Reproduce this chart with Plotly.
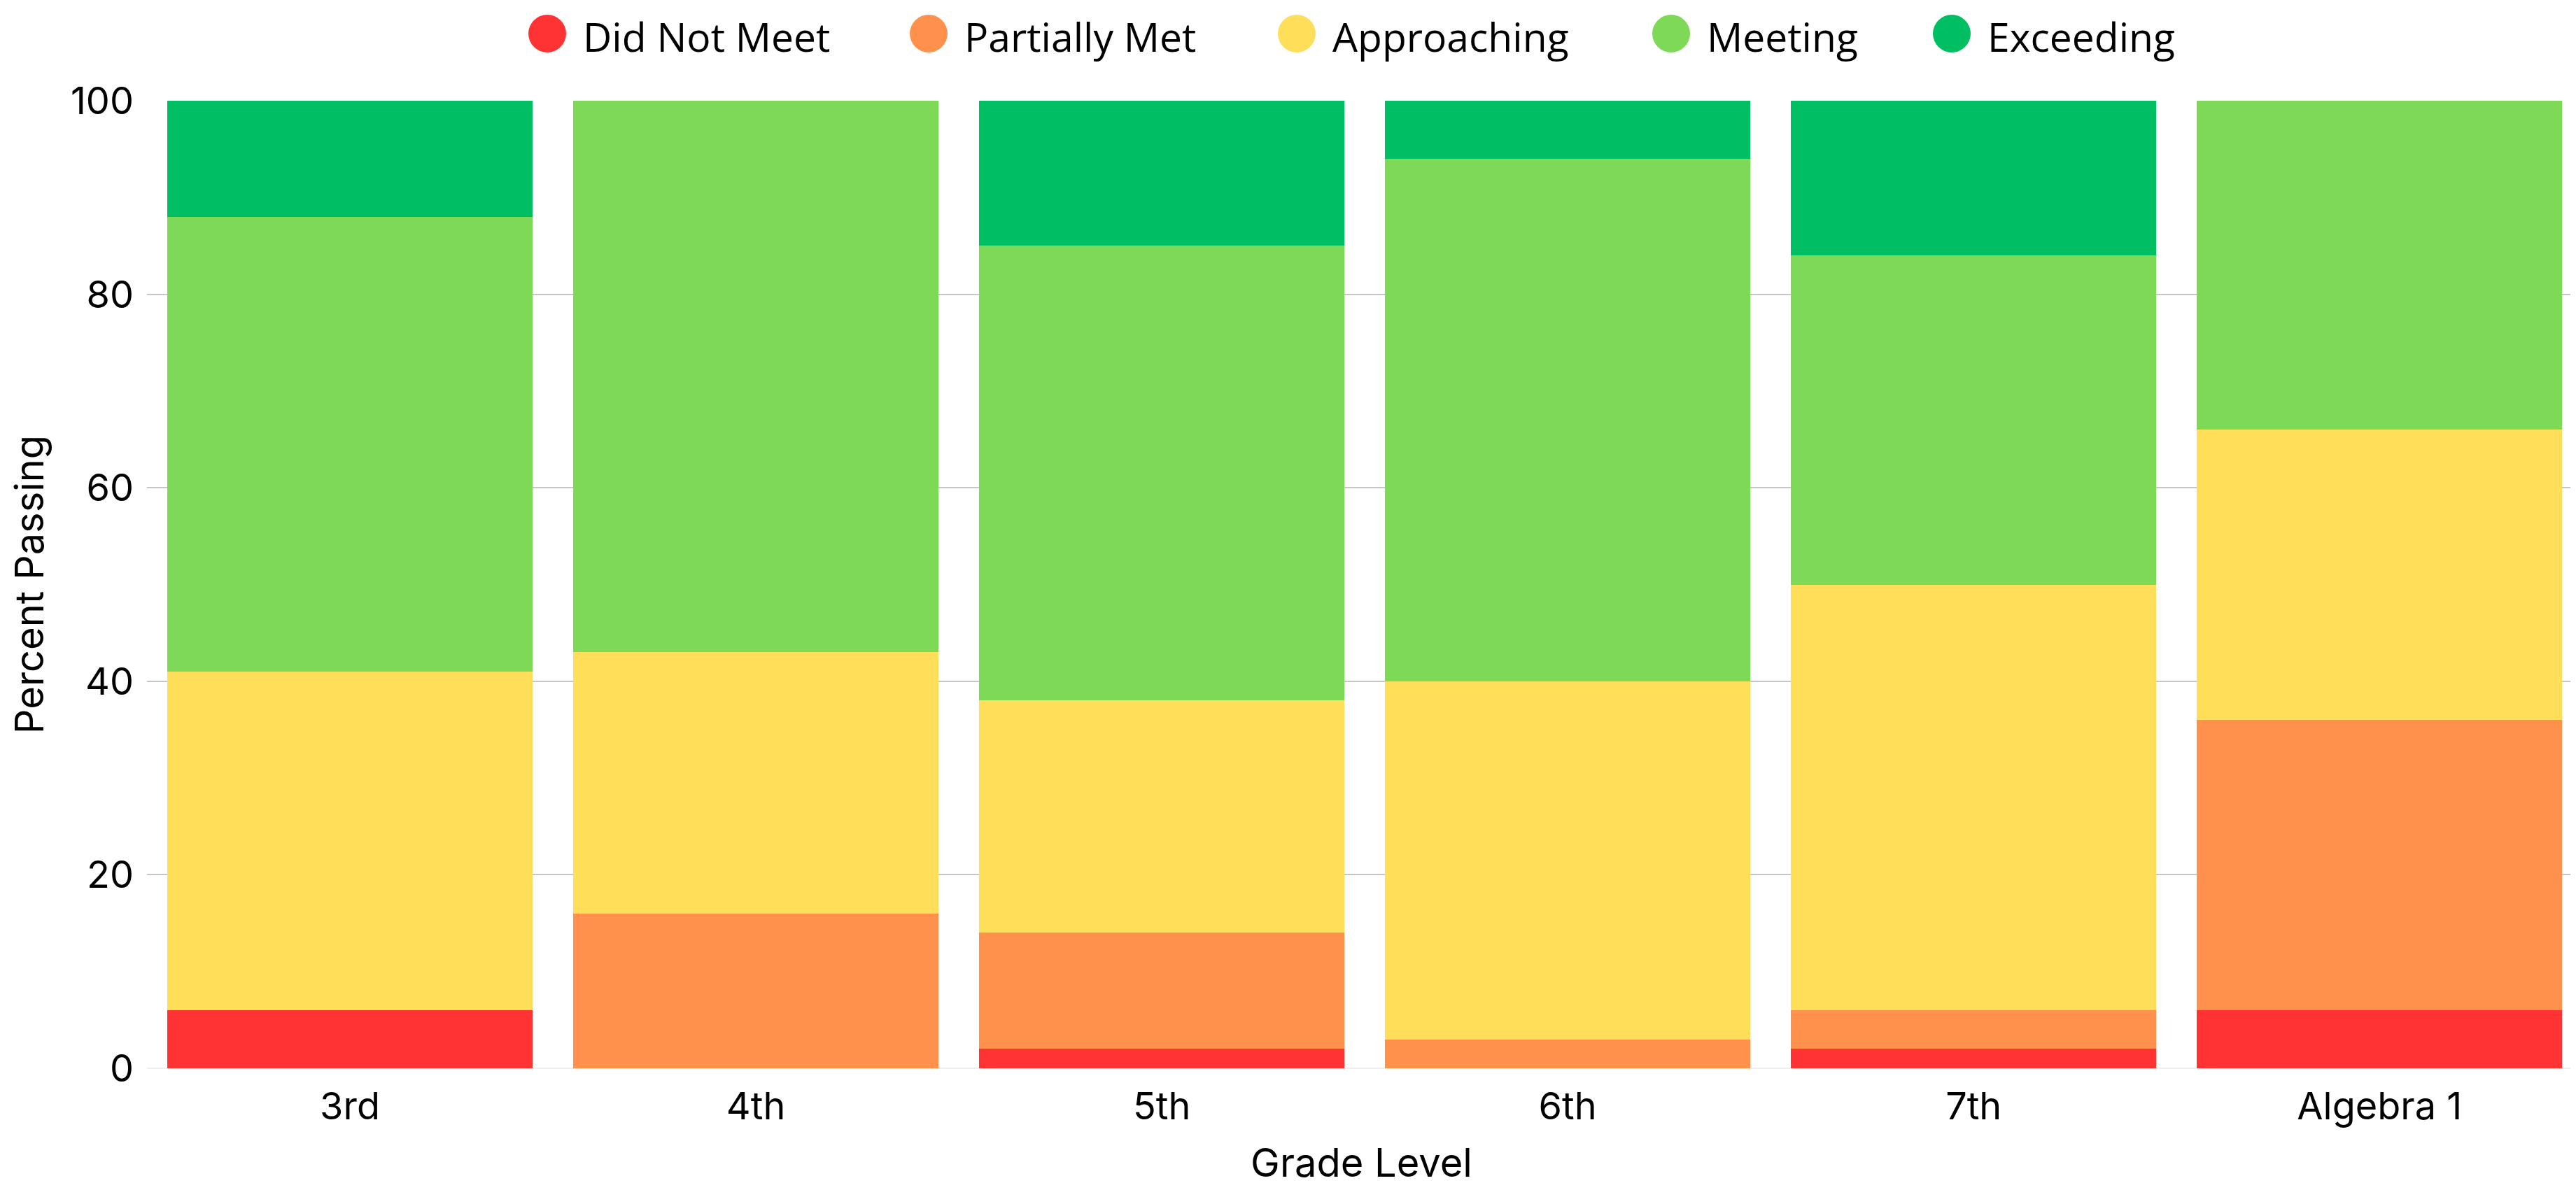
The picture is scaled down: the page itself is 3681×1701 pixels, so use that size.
import plotly.graph_objects as go

# grade levels and percent of students in each achievement band
grades = ["3rd", "4th", "5th", "6th", "7th", "Algebra 1"]
did_not_meet = [6, 0, 2, 0, 2, 6]
partially_met = [0, 16, 12, 3, 4, 30]
approaching = [35, 27, 24, 37, 44, 30]
meeting = [47, 57, 47, 54, 34, 34]
exceeding = [12, 0, 15, 6, 16, 0]

band_names = ["Did Not Meet", "Partially Met", "Approaching", "Meeting", "Exceeding"]
band_values = [did_not_meet, partially_met, approaching, meeting, exceeding]
band_colors = ["#FF3333", "#FF914D", "#FFDE59", "#7ED957", "#00BF63"]

# the page body adds an 8px margin, so the figure is drawn 8px smaller
BODY = 8
W, H = 3681 - BODY, 1701 - BODY
ML, MR, MT, MB = 210 - BODY, 0, 144 - BODY, 174
plot_w = W - ML - MR
plot_h = H - MT - MB

# legend layout (figure pixels): dot centres along the top row
legend_cy = 48 - BODY
dot_cx = [x - BODY for x in (782, 1327, 1853, 2388, 2789)]
dot_r = 27
text_gap = 80  # from dot's left edge to label start

fig = go.Figure()

for name, vals, col in zip(band_names, band_values, band_colors):
    fig.add_trace(go.Bar(
        x=grades,
        y=vals,
        name=name,
        marker=dict(color=col, line=dict(width=0)),
        showlegend=False,
    ))

# legend labels (symbols drawn as big dots below)
for i, name in enumerate(band_names):
    lg = "legend" if i == 0 else f"legend{i + 1}"
    fig.add_trace(go.Scatter(
        x=[None], y=[None],
        mode="markers",
        marker=dict(color="rgba(0,0,0,0)", size=2),
        name=name,
        legend=lg,
        hoverinfo="skip",
    ))

layout_config = {
    "width": W,
    "height": H,
    "autosize": False,
    "barmode": "stack",
    "bargap": 0.1,
    "plot_bgcolor": "white",
    "paper_bgcolor": "white",
    "margin": dict(l=ML, r=MR, t=MT, b=MB, pad=0, autoexpand=False),
    "font": dict(family="Inter, Noto Sans, sans-serif", size=54, color="#000000"),
    "xaxis": dict(
        range=[-0.5, 5.484],
        automargin=False,
        showgrid=False,
        showline=False,
        ticks="",
        ticklabelstandoff=18,
        tickfont=dict(size=54),
        title=dict(text="Grade Level", font=dict(size=56), standoff=30),
    ),
    "yaxis": dict(
        range=[0, 100],
        dtick=20,
        automargin=False,
        showgrid=True,
        gridcolor="#c6c6c6",
        gridwidth=1.5,
        zeroline=True,
        zerolinecolor="#efefef",
        zerolinewidth=2,
        showline=False,
        ticks="",
        ticklabelstandoff=18,
        tickfont=dict(size=54),
        title=dict(text="Percent Passing", font=dict(size=56), standoff=30),
    ),
}

shapes = []
for i, col in enumerate(band_colors):
    key = "legend" if i == 0 else f"legend{i + 1}"
    text_start = dot_cx[i] - dot_r + text_gap
    layout_config[key] = dict(
        orientation="h",
        xref="container",
        yref="container",
        x=(text_start - 42) / W,
        xanchor="left",
        y=1,
        yanchor="top",
        bgcolor="rgba(0,0,0,0)",
        borderwidth=0,
        itemwidth=30,
        font=dict(family="Open Sans, Noto Sans, sans-serif", size=57, color="#000000"),
    )
    shapes.append(dict(
        type="circle",
        xref="paper", yref="paper",
        xsizemode="pixel", ysizemode="pixel",
        xanchor=(dot_cx[i] - ML) / plot_w,
        yanchor=(H - MB - legend_cy) / plot_h,
        x0=-dot_r, x1=dot_r, y0=-dot_r, y1=dot_r,
        fillcolor=col,
        line=dict(width=0),
        layer="above",
    ))

layout_config["shapes"] = shapes

fig.update_layout(**layout_config)

fig.write_html("out.html")
